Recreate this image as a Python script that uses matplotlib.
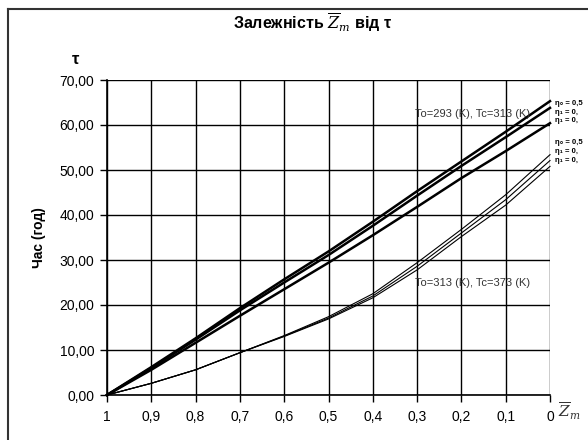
import matplotlib.pyplot as plt
from matplotlib.lines import Line2D

plt.rcParams['font.family'] = ['Liberation Sans', 'DejaVu Sans']
plt.rcParams['mathtext.fontset'] = 'dejavuserif'

# relative coordinate Z_m (axis runs from 1 down to 0)
z = [1.0, 0.9, 0.8, 0.7, 0.6, 0.5, 0.4, 0.3, 0.2, 0.1, 0.0]

# To=293 K, Tc=313 K
t293_a = [0, 6.2, 12.6, 19.3, 25.7, 31.9, 38.5, 45.3, 51.9, 58.5, 65.3]
t293_b = [0, 6.0, 12.3, 18.8, 25.0, 31.1, 37.6, 44.3, 50.9, 57.3, 63.8]
t293_c = [0, 5.6, 11.6, 17.6, 23.5, 29.4, 35.5, 41.8, 48.2, 54.2, 60.4]

# To=313 K, Tc=373 K
t313_a = [0, 2.6, 5.6, 9.4, 13.2, 17.4, 22.5, 29.4, 36.8, 44.5, 53.4]
t313_b = [0, 2.6, 5.6, 9.4, 13.1, 17.1, 22.0, 28.6, 36.0, 43.4, 52.1]
t313_c = [0, 2.6, 5.6, 9.4, 13.0, 16.9, 21.6, 27.8, 35.2, 42.2, 50.8]

x_ticks = [1, 0.9, 0.8, 0.7, 0.6, 0.5, 0.4, 0.3, 0.2, 0.1, 0]
x_labels = ['1', '0,9', '0,8', '0,7', '0,6', '0,5', '0,4', '0,3', '0,2', '0,1', '0']
y_ticks = [0, 10, 20, 30, 40, 50, 60, 70]
y_labels = ['0,00', '10,00', '20,00', '30,00', '40,00', '50,00', '60,00', '70,00']

legend_top = ['η₀ = 0,5', 'η₁ = 0,', 'η₁ = 0,']
legend_bottom = ['η₀ = 0,5', 'η₁ = 0,', 'η₁ = 0,']

fig = plt.figure(figsize=(5.88, 4.40), dpi=100)
ax = fig.add_axes([107/588, 1 - 395/440, 443/588, 315/440])

for s in [t293_a, t293_b, t293_c]:
    ax.plot(z, s, color='black', lw=1.8, clip_on=False)
for s in [t313_a, t313_b, t313_c]:
    ax.plot(z, s, color='black', lw=0.8, clip_on=False)

ax.set_xlim(1, 0)
ax.set_ylim(0, 70)
ax.set_xticks(x_ticks)
ax.set_xticklabels(x_labels)
ax.set_yticks(y_ticks)
ax.set_yticklabels(y_labels)
ax.tick_params(axis='both', labelsize=10, length=5, width=1, color='black', direction='out')
ax.tick_params(axis='x', pad=6)
ax.tick_params(axis='y', pad=4)
ax.grid(True, color='black', lw=1)
ax.spines['top'].set_visible(False)
ax.spines['right'].set_visible(False)
ax.spines['left'].set_linewidth(1.2)
ax.spines['bottom'].set_linewidth(1.2)

ax.set_ylabel('Час (год)', fontsize=10, fontweight='bold', labelpad=10)

ax.text(0.175, 62.4, 'To=293 (K), Tc=313 (K)', fontsize=8, color='#333333',
        ha='center', va='center')
ax.text(0.175, 24.8, 'To=313 (K), Tc=373 (K)', fontsize=8, color='#333333',
        ha='center', va='center')

fig.text(313/588, 1 - 23/440, 'Залежність $\\overline{Z}_m$ від τ', fontsize=11.5,
         fontweight='bold', ha='center', va='center')
fig.text(76/588, 1 - 59/440, 'τ', fontsize=12, fontweight='bold', ha='center', va='center')
fig.text(558/588, 1 - 411/440, '$\\overline{Z}_m$', fontsize=11, color='#333333',
         ha='left', va='center')

for i, t in enumerate(legend_top):
    fig.text(555/588, 1 - (103 + 9 * i)/440, t, fontsize=5.5, fontweight='bold',
             ha='left', va='center')
for i, t in enumerate(legend_bottom):
    fig.text(555/588, 1 - (142 + 9 * i)/440, t, fontsize=5.5, fontweight='bold',
             ha='left', va='center')

# chart area border
fig.add_artist(Line2D([8/588, 8/588], [0, 1 - 9/440], color='#333333', lw=1.5))
fig.add_artist(Line2D([8/588, 1], [1 - 9/440, 1 - 9/440], color='#333333', lw=1.5))

fig.savefig('out.png', dpi=100)
